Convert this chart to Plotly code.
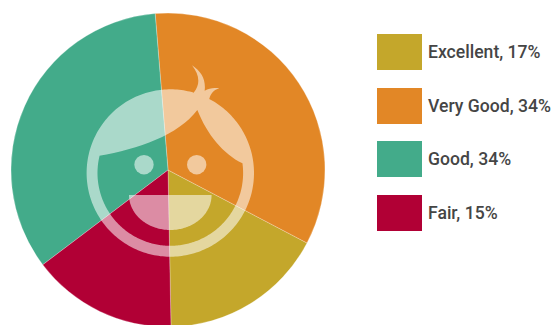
import numpy as np
import plotly.graph_objects as go

categories = ["Excellent", "Very Good", "Good", "Fair"]
shares = [17, 34, 34, 15]
colors = ["#c4a72b", "#e28726", "#43ab8a", "#b10035"]

WIDTH, HEIGHT = 553, 328
OVERLAY = "rgba(255,255,255,0.55)"
FONT = "Roboto, sans-serif"


def px(x, y):
    """Pixel position to paper coordinates, as a path fragment."""
    return f"{x / WIDTH:.5f},{1 - y / HEIGHT:.5f}"


def arc(cx, cy, rx, ry, start, end, steps=120):
    """Polyline fragment along an ellipse; angles in degrees, y pointing down."""
    t = np.radians(np.linspace(start, end, steps))
    return " ".join("L" + px(cx + rx * np.cos(a), cy + ry * np.sin(a)) for a in t)


def angle(cx, cy, x, y):
    return np.degrees(np.arctan2(y - cy, x - cx))


# Smiling face: ring and hair form one path so they blend as a single layer
cx, cy, r_out, r_in = 170.3, 173.0, 83.7, 72.8
z = lambda x, y: (70 + x / 3, 50 + y / 3)

tuft_a = z(372, 127)
tuft_b = z(418, 146)
a0 = angle(cx, cy, *tuft_b)
a1 = angle(cx, cy, *tuft_a) + 360
outer = (
    "M" + px(*tuft_a)
    + " C" + " ".join(px(*z(*p)) for p in [(392, 100), (388, 75), (366, 46)])
    + " C" + " ".join(px(*z(*p)) for p in [(395, 65), (408, 90), (404, 122)])
    + " C" + " ".join(px(*z(*p)) for p in [(418, 114), (432, 112), (448, 115)])
    + " C" + " ".join(px(*z(*p)) for p in [(432, 120), (422, 130), (418, 146)])
    + " " + arc(cx, cy, r_out, r_out, a0, a1, 240)
    + " Z"
)

fringe_l = z(88, 317)
fringe_r = z(518, 340)
b0 = angle(cx, cy, *fringe_r)
b1 = angle(cx, cy, *fringe_l)
if b1 < b0:
    b1 += 360
# Hole is wound the opposite way round to the outer outline
hole = (
    "M" + px(*fringe_l)
    + " " + arc(cx, cy, r_in, r_in, b1, b0, 200)
    + " C" + " ".join(px(*z(*p)) for p in [(460, 312), (412, 255), (382, 180)])
    + " C" + " ".join(px(*z(*p)) for p in [(325, 255), (205, 298), (88, 317)])
    + " Z"
)

mouth = "M" + px(129, 195) + " " + arc(170.3, 195, 41.3, 35, 180, 0) + " Z"

shapes = [
    dict(type="path", path=outer + " " + hole, fillcolor=OVERLAY, line_width=0,
         xref="paper", yref="paper", layer="above"),
    dict(type="path", path=mouth, fillcolor=OVERLAY, line_width=0,
         xref="paper", yref="paper", layer="above"),
]
for ex in (144.0, 196.7):
    shapes.append(dict(type="circle", xref="paper", yref="paper", layer="above",
                       x0=(ex - 9.7) / WIDTH, x1=(ex + 9.7) / WIDTH,
                       y0=1 - (164.7 + 9.7) / HEIGHT, y1=1 - (164.7 - 9.7) / HEIGHT,
                       fillcolor=OVERLAY, line_width=0))

# Key: colour swatch with a label built from the same values as the slices
annotations = []
for i, (name, value, color) in enumerate(zip(categories, shares, colors)):
    top = [34, 88, 141, 195][i]
    shapes.append(dict(type="rect", xref="paper", yref="paper", layer="above",
                       x0=377 / WIDTH, x1=422 / WIDTH,
                       y0=1 - (top + 36) / HEIGHT, y1=1 - top / HEIGHT,
                       fillcolor=color, line_width=0))
    annotations.append(dict(text=f"{name}, {value}%", xref="paper", yref="paper",
                            x=426 / WIDTH, y=1 - (top + 18) / HEIGHT,
                            xanchor="left", yanchor="middle", showarrow=False,
                            font=dict(family=FONT, size=17.6, weight=500, color="#454545")))

fig = go.Figure(go.Pie(
    labels=categories,
    values=shares,
    sort=False,
    direction="counterclockwise",
    rotation=117.7,
    marker=dict(colors=colors, line=dict(color="rgba(255,255,255,0.5)", width=0.5)),
    textinfo="none",
    hoverinfo="label+percent",
    showlegend=False,
    domain=dict(x=[11 / WIDTH, 325 / WIDTH], y=[1 - 327 / HEIGHT, 1 - 13 / HEIGHT]),
))
fig.update_layout(
    width=WIDTH,
    height=HEIGHT,
    margin=dict(l=0, r=0, t=0, b=0),
    paper_bgcolor="white",
    shapes=shapes,
    annotations=annotations,
)
fig.write_html("out.html", config=dict(displayModeBar=False),
               post_script="document.documentElement.style.overflow='hidden';")
